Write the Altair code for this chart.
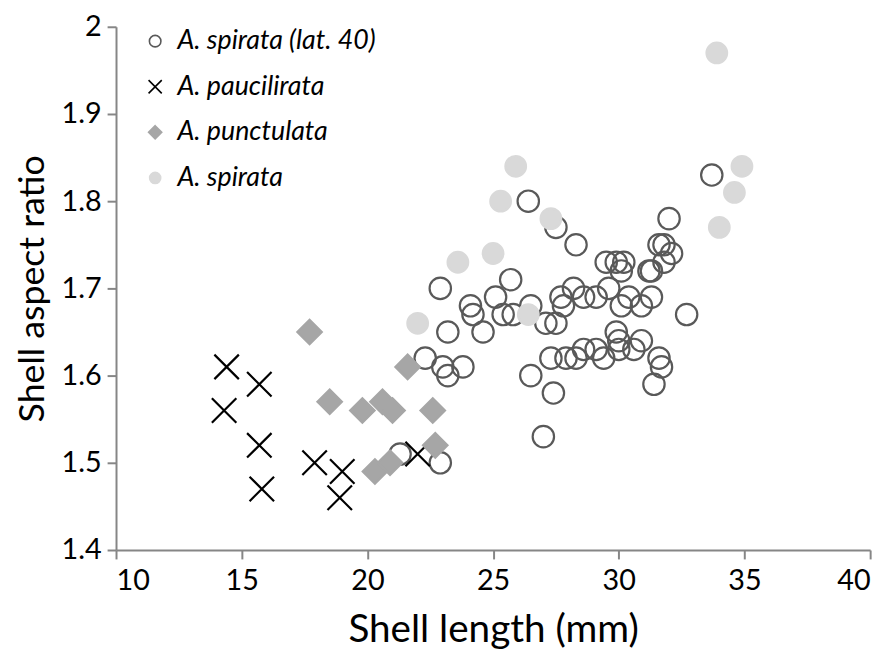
import altair as alt
import pandas as pd

# --- data ---
lat40_x = [21.3, 22.9, 22.3, 23.0, 23.2, 23.8, 23.2, 22.9,
           24.1, 24.2, 24.6, 25.1, 25.4, 25.8, 25.7, 26.5,
           26.4, 27.5, 28.3,
           27.1, 27.5, 27.7, 27.8, 28.2, 28.6, 29.1,
           29.6, 30.4, 31.3, 30.1, 30.9,
           29.5, 29.9, 30.2, 30.1, 31.2, 31.3, 31.6, 31.8, 32.1, 31.8, 32.0, 33.7,
           32.7,
           26.5, 27.4, 27.0, 27.3, 27.9, 28.3, 28.6, 29.1, 29.4, 29.9, 30.0, 30.0,
           30.6, 30.9, 31.6, 31.7, 31.4]
lat40_y = [1.51, 1.50, 1.62, 1.61, 1.60, 1.61, 1.65, 1.70,
           1.68, 1.67, 1.65, 1.69, 1.67, 1.67, 1.71, 1.68,
           1.80, 1.77, 1.75,
           1.66, 1.66, 1.69, 1.68, 1.70, 1.69, 1.69,
           1.70, 1.69, 1.69, 1.68, 1.68,
           1.73, 1.73, 1.73, 1.72, 1.72, 1.72, 1.75, 1.75, 1.74, 1.73, 1.78, 1.83,
           1.67,
           1.60, 1.58, 1.53, 1.62, 1.62, 1.62, 1.63, 1.63, 1.62, 1.65, 1.64, 1.63,
           1.63, 1.64, 1.62, 1.61, 1.59]

pauc_x = [14.4, 15.7, 14.3, 15.7, 15.8, 17.9, 19.0, 18.9, 22.0]
pauc_y = [1.61, 1.59, 1.56, 1.52, 1.47, 1.50, 1.49, 1.46, 1.51]

punc_x = [17.7, 18.5, 19.8, 20.6, 21.0, 22.6, 21.6, 22.7, 20.3, 20.9]
punc_y = [1.65, 1.57, 1.56, 1.57, 1.56, 1.56, 1.61, 1.52, 1.49, 1.50]

spir_x = [22.0, 23.6, 25.0, 25.3, 25.9, 27.3, 26.4, 33.9, 34.9, 34.6, 34.0]
spir_y = [1.66, 1.73, 1.74, 1.80, 1.84, 1.78, 1.67, 1.97, 1.84, 1.81, 1.77]

species = ["A. spirata (lat. 40)", "A. paucilirata", "A. punctulata", "A. spirata"]
x_ticks = [10, 15, 20, 25, 30, 35, 40]
y_ticks = [1.4, 1.5, 1.6, 1.7, 1.8, 1.9, 2.0]

rows = []
for name, xs, ys in zip(species, [lat40_x, pauc_x, punc_x, spir_x],
                        [lat40_y, pauc_y, punc_y, spir_y]):
    for xv, yv in zip(xs, ys):
        rows.append({"species": name, "length": xv, "ratio": yv})
df = pd.DataFrame(rows)

shapes = [
    "M0.83,0A0.83,0.83,0,1,1,-0.83,0A0.83,0.83,0,1,1,0.83,0Z",
    "M-0.95,-0.95L0.95,0.95M-0.95,0.95L0.95,-0.95",
    "M0,-0.95L0.95,0L0,0.95L-0.95,0Z",
    "M0.8,0A0.8,0.8,0,1,1,-0.8,0A0.8,0.8,0,1,1,0.8,0Z",
]
fills = ["transparent", "transparent", "#a6a6a6", "#d9d9d9"]
strokes = ["#595959", "#000000", "#a6a6a6", "#d9d9d9"]

FONT = "Lato"

chart = alt.Chart(df).mark_point(opacity=1, size=676, strokeWidth=2.2).encode(
    x=alt.X("length:Q", title="Shell length (mm)",
            scale=alt.Scale(domain=[10, 40], nice=False, zero=False),
            axis=alt.Axis(values=x_ticks, format="~g", titleFontSize=39,
                          labelPadding=8, titlePadding=15)),
    y=alt.Y("ratio:Q", title="Shell aspect ratio",
            scale=alt.Scale(domain=[1.4, 2.0], nice=False, zero=False),
            axis=alt.Axis(values=y_ticks, format="~g", titleFontSize=36,
                          labelPadding=6, titlePadding=10)),
    shape=alt.Shape("species:N", title=None,
                    scale=alt.Scale(domain=species, range=shapes)),
    fill=alt.Fill("species:N", title=None,
                  scale=alt.Scale(domain=species, range=fills)),
    stroke=alt.Stroke("species:N", title=None,
                      scale=alt.Scale(domain=species, range=strokes)),
).properties(
    width=761, height=528,
    autosize=alt.AutoSizeParams(type="none"),
    padding={"left": 109, "top": 16, "right": 16, "bottom": 103},
).configure_view(
    stroke=None
).configure_axis(
    grid=False,
    domainColor="#868686", domainWidth=2,
    tickColor="#868686", tickWidth=2, tickSize=9,
    labelFont=FONT, labelFontSize=29, labelColor="#000000",
    titleFont=FONT, titleFontWeight="normal", titleColor="#000000",
).configure_legend(
    orient="none", legendX=26, legendY=1,
    labelFont=FONT, labelFontSize=27, labelFontStyle="italic", labelColor="#000000",
    labelLimit=500,
    symbolSize=196, symbolStrokeWidth=1.6, rowPadding=18, padding=0, labelOffset=9,
)

chart.save("out.html", embed_options={"renderer": "svg", "actions": False})
